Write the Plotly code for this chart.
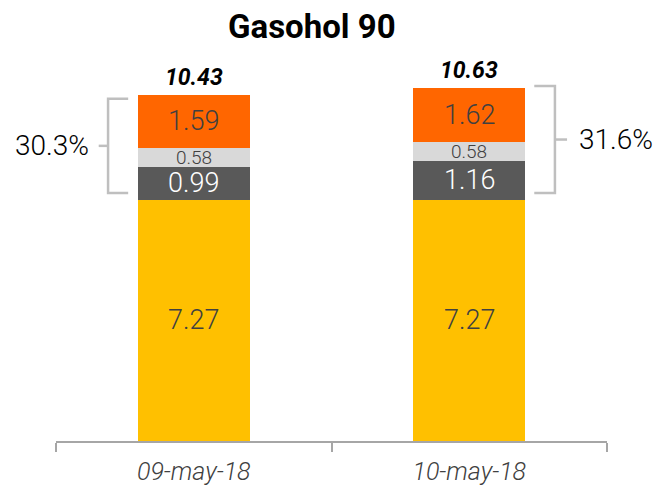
import plotly.graph_objects as go

# Price build-up of Gasohol 90 (stacked components)
dates = ["09-may-18", "10-may-18"]
base_price = [7.27, 7.27]
component_dark = [0.99, 1.16]
component_light = [0.58, 0.58]
component_orange = [1.59, 1.62]

totals = [round(a + b + c + d, 2) for a, b, c, d in
          zip(base_price, component_dark, component_light, component_orange)]
shares = [(b + c + d) / t for b, c, d, t in
          zip(component_dark, component_light, component_orange, totals)]

FONT = "Roboto"
TEXT_DARK = "#404040"
BAR_W = 0.406

fig = go.Figure()

series = [
    (base_price, "#FFC000", TEXT_DARK, 27),
    (component_dark, "#595959", "white", 27),
    (component_light, "#D9D9D9", TEXT_DARK, 19),
    (component_orange, "#FF6600", TEXT_DARK, 27),
]
cum = [0.0] * len(dates)
for vals, color, tcolor, tsize in series:
    fig.add_trace(go.Bar(
        x=dates, y=vals, width=BAR_W,
        marker=dict(color=color, line=dict(width=0)),
        hoverinfo="skip", showlegend=False,
    ))
    # segment value labels, centred in each segment
    for i, (d, v) in enumerate(zip(dates, vals)):
        fig.add_annotation(
            x=d, y=cum[i] + v / 2, xref="x", yref="y", text=f"{v:.2f}",
            showarrow=False, yanchor="middle",
            font=dict(family=FONT, size=tsize, color=tcolor, weight=300),
        )
        cum[i] += v

# Totals above the bars
for d, t in zip(dates, totals):
    fig.add_annotation(
        x=d, y=t, xref="x", yref="y", text=f"<b><i>{t:.2f}</i></b>",
        showarrow=False, yanchor="bottom", yshift=2,
        font=dict(family=FONT, size=23, color="black"),
    )

# Brackets marking the share of the upper components
bracket_color = "#BFBFBF"
bracket_specs = [
    # (category index, bracket x, end-tick x, mid-tick x, top offset)
    (0, -0.311, -0.238, -0.345, -0.12),
    (1, 0.311, 0.236, 0.355, 0.06),
]
for idx, bx, ex, mx, top_off in bracket_specs:
    lo = base_price[idx] + 0.2
    hi = totals[idx] + top_off
    mid = (lo + hi) / 2
    xc = idx
    path = f"M {xc + ex},{hi} L {xc + bx},{hi} L {xc + bx},{lo} L {xc + ex},{lo}"
    fig.add_shape(type="path", path=path, xref="x", yref="y",
                  line=dict(color=bracket_color, width=2.5))
    fig.add_shape(type="line", x0=xc + bx, x1=xc + mx, y0=mid, y1=mid,
                  xref="x", yref="y", line=dict(color=bracket_color, width=2.5))
    label = f"{shares[idx] * 100:.1f}%"
    if idx == 0:
        fig.add_annotation(x=0.064, xref="paper", y=mid, yref="y",
                           text=label, showarrow=False, xanchor="right",
                           font=dict(family=FONT, size=28, color="black", weight=300))
    else:
        fig.add_annotation(x=0.945, xref="paper", y=mid, yref="y",
                           text=label, showarrow=False, xanchor="left",
                           font=dict(family=FONT, size=28, color="black", weight=300))

# Title
fig.add_annotation(x=(312 - 56) / 551, xref="paper", y=1.0, yref="paper",
                   yshift=14, text="<b>Gasohol 90</b>", showarrow=False,
                   xanchor="center", yanchor="middle",
                   font=dict(family=FONT, size=33, color="black", weight=900))

fig.update_layout(
    width=658, height=488,
    margin=dict(l=56, r=51, t=40, b=47),
    barmode="stack",
    plot_bgcolor="white", paper_bgcolor="white",
    xaxis=dict(
        type="category", range=[-0.5, 1.5], automargin=False,
        showline=True, linecolor="#A6A6A6", linewidth=2,
        ticks="outside", tickson="boundaries", ticklen=9,
        tickcolor="#A6A6A6", tickwidth=2, ticklabelstandoff=7,
        tickfont=dict(family=FONT, size=25, color=TEXT_DARK, style="italic",
                      weight=300),
        showgrid=False, zeroline=False,
    ),
    yaxis=dict(range=[0, 401 / 33.2], visible=False, showgrid=False,
               zeroline=False, automargin=False),
)

fig.write_html("out.html")
